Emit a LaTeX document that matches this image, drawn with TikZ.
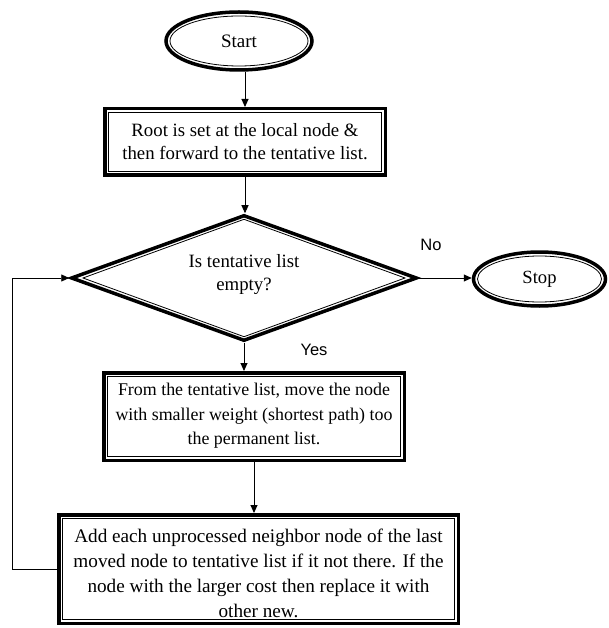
\documentclass[tikz,border=0pt]{standalone}
\usepackage{fontspec}
\setmainfont{Liberation Serif}
\newfontfamily\lsans{Liberation Sans}
\usetikzlibrary{shapes.geometric,arrows.meta}
\newcommand\mytxt[2]{\raisebox{#1}[\height][\depth]{\begin{tabular}{@{}c@{}}#2\end{tabular}}}
\tikzset{
  x=1pt, y=-1pt,
  txt/.style={align=center},
  dbox/.style={txt, draw, rectangle, line width=3.5pt, inner sep=0pt, outer sep=1.75pt},
  dell/.style={txt, draw, ellipse, line width=3.5pt, inner sep=0pt, outer sep=1.75pt},
  ddia/.style={txt, draw, diamond, aspect=2.75, line width=3.5pt, inner sep=0pt, outer sep=1.75pt, miter limit=10},
  innerline/.style={line width=0.8pt},
  arr/.style={line width=0.9pt, -{Triangle[length=8pt,width=7pt]}},
  lab/.style={font=\lsans\fontsize{16.5}{20}\selectfont}
}
\begin{document}
\begin{tikzpicture}
\useasboundingbox (0,0) rectangle (608,628);
% nodes
\node[dell, minimum width=146pt, minimum height=58pt, font=\fontsize{19}{23}\selectfont] (start) at (239,41) {Start};
\node[dbox, minimum width=280.5pt, minimum height=66.5pt] (box1) at (245,142)
  {\fontsize{18.8}{23}\selectfont\mytxt{-1pt}{Root is set at the local node \&\\then forward to the tentative list.}};
\node[ddia, minimum width=346pt, minimum height=126pt] (dec) at (244,278)
  {\fontsize{18.8}{23}\selectfont\mytxt{4pt}{Is tentative list\\empty?}};
\node[dell, minimum width=132pt, minimum height=54pt, font=\fontsize{18.6}{23}\selectfont] (stop) at (539.5,279) {Stop};
\node[dbox, minimum width=300.5pt, minimum height=87.5pt] (box2) at (254,416.5)
  {\fontsize{17.9}{24.5}\selectfont\mytxt{1pt}{From the tentative list, move the node\\with smaller weight (shortest path) too\\the permanent list.}};
\node[dbox, minimum width=399.5pt, minimum height=108.5pt] (box3) at (258.5,569)
  {\fontsize{19.2}{25}\selectfont\mytxt{-6pt}{Add each unprocessed neighbor node of the last\\moved node to tentative list if it not there. If the\\node with the larger cost then replace it with\\other new.}};
\node[lab] (no) at (431,245) {No};
\node[lab] (yes) at (314,350) {Yes};
\coordinate (lp) at (12,572);
% inner borders
\draw[innerline] (start.center) ellipse [x radius=69, y radius=25];
\draw[innerline] (stop.center) ellipse [x radius=62, y radius=23];
\foreach \n in {box1,box2,box3}
  \draw[innerline] ([shift={(5.75,5.75)}]\n.north west) rectangle ([shift={(-5.75,-5.75)}]\n.south east);
\draw[innerline] ([shift={(-161,0)}]dec.center) -- ([shift={(0,-58.7)}]dec.center)
  -- ([shift={(161,0)}]dec.center) -- ([shift={(0,58.7)}]dec.center) -- cycle;
% connectors
\draw[arr] (box1.north |- start.south) -- (box1.north);
\draw[arr] (box1.south) -- (box1.south |- dec.north);
\draw[arr] (dec.east) -- (dec.east -| stop.west);
\draw[arr] (dec.south) -- (dec.south |- box2.north);
\draw[arr] (box2.south) -- (box2.south |- box3.north);
\draw[arr] (box3.west) -- (box3.west -| lp) |- (dec.west);
\end{tikzpicture}
\end{document}
